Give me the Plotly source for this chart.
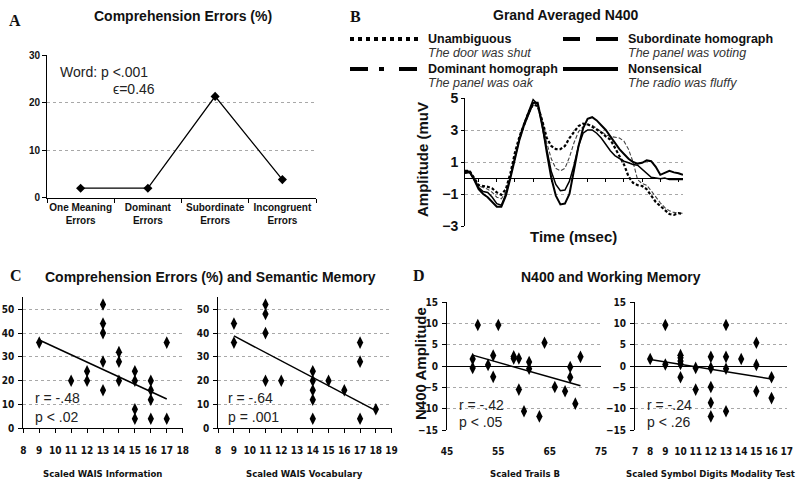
import plotly.graph_objects as go

# ---------------- data ----------------
# Panel A
a_categories = ["One Meaning<br>Errors", "Dominant<br>Errors", "Subordinate<br>Errors", "Incongruent<br>Errors"]
a_values = [2.0, 2.0, 21.3, 3.8]

# Panel B  (grand averaged N400 waveforms)
b_time = list(range(-175, 1026, 25))
b_unambiguous = [0.45, 0.45, 0.0, -0.45, -0.5, -0.55, -0.65, -0.9, -1.05, -0.7, 0.3, 1.6, 2.6, 3.3, 4.1, 4.6,
                 4.5, 3.6, 2.5, 2.0, 1.8, 1.8, 2.0, 2.5, 2.9, 3.25, 3.4, 3.35, 3.2, 3.05, 2.85, 2.6, 2.4, 1.9,
                 1.4, 0.85, 0.1, -0.3, -0.45, -0.5, -0.7, -1.1, -1.5, -1.75, -2.0, -2.25, -2.3, -2.2, -2.25]
b_subordinate = [0.4, 0.45, 0.0, -0.5, -0.6, -0.7, -0.9, -1.2, -1.3, -0.9, 0.1, 1.3, 2.4, 3.2, 4.0, 4.7,
                 4.6, 3.5, 2.2, 1.2, 0.6, 0.45, 0.6, 1.3, 2.2, 2.9, 3.2, 3.35, 3.3, 3.1, 2.9, 2.7, 2.6, 2.55,
                 2.5, 2.3, 1.8, 1.0, -0.1, -0.35, -0.45, -0.8, -1.2, -1.55, -1.85, -2.05, -2.15, -2.2, -2.2]
b_nonsensical = [0.35, 0.4, -0.1, -0.7, -1.0, -1.2, -1.5, -1.8, -1.8, -1.1, 0.0, 1.3, 2.4, 3.3, 4.0, 4.7,
                 4.7, 3.4, 1.6, 0.0, -1.1, -1.65, -1.6, -1.0, 0.5, 2.0, 3.1, 3.7, 3.8, 3.6, 3.3, 3.0, 2.6, 2.2,
                 1.8, 1.5, 1.2, 1.0, 0.9, 0.95, 1.1, 1.05, 0.7, 0.2, 0.35, 0.45, 0.35, 0.3, 0.2]
b_dominant = [0.3, 0.35, -0.1, -0.6, -0.85, -0.9, -1.2, -1.6, -1.7, -1.0, 0.1, 1.4, 2.5, 3.4, 4.2, 4.9,
              4.6, 3.2, 1.7, 0.4, -0.4, -0.8, -0.75, -0.2, 0.8, 2.0, 2.8, 3.0, 3.0, 2.8, 2.5, 2.1, 1.7, 1.4,
              1.2, 1.05, 0.95, 0.85, 0.8, 0.55, 0.3, 0.05, 0.0, -0.05, 0.0, -0.1, -0.1, -0.1, -0.1]
b_yticks = [-3, -1, 1, 3, 5]

# Panel C left: Scaled WAIS Information vs comprehension errors
c1_x = [9, 11, 12, 12, 13, 13, 13, 13, 13, 14, 14, 14, 15, 15, 15, 15, 16, 16, 16, 16, 17, 17]
c1_y = [36, 20, 24, 20, 52, 44, 40, 28, 16, 32, 28, 20, 24, 20, 8, 4, 20, 16, 12, 4, 36, 4]
c1_fit_x = [9, 17]
c1_fit_y = [37.1, 12.3]

# Panel C right: Scaled WAIS Vocabulary
c2_x = [9, 9, 11, 11, 11, 11, 12, 14, 14, 14, 14, 14, 15, 16, 17, 17, 17, 18]
c2_y = [44, 36, 52, 48, 40, 20, 20, 24, 20, 16, 12, 4, 20, 16, 36, 28, 4, 8]
c2_fit_x = [9, 18]
c2_fit_y = [38.8, 7.4]

# Panel D left: Scaled Trails B vs N400 amplitude
d1_x = [50, 50, 51, 53, 54, 54, 55, 58, 58, 59, 59, 60, 61, 61, 63, 64, 66, 68, 69, 69, 70, 71]
d1_y = [1.7, -0.4, 9.7, 0.3, 2.5, -2.5, 9.7, 2.3, 1.8, 1.8, -5.5, -10.6, 1.0, -0.6, -11.8, 5.5, -4.9, -5.9,
        -0.2, -2.6, -8.8, 2.2]
d1_fit_x = [50, 71]
d1_fit_y = [2.6, -4.6]

# Panel D right: Scaled Symbol Digits Modality Test
d2_x = [8, 9, 9, 10, 10, 10, 10, 10, 11, 11, 12, 12, 12, 12, 12, 13, 13, 13, 13, 14, 15, 15, 15, 16, 16]
d2_y = [1.7, 9.7, 0.4, 2.6, 2.0, 1.2, 0.5, -2.6, -0.4, -5.5, 2.2, -0.4, -4.9, -8.6, -11.8, 9.7, 2.2, -0.6,
        -10.6, 1.7, 5.5, 0.3, -5.9, -2.6, -7.5]
d2_fit_x = [8, 16]
d2_fit_y = [1.6, -3.0]

# ---------------- helpers ----------------
W, H = 800, 489
SANS = "Liberation Sans, Arial, sans-serif"
NARROW = "Liberation Sans Narrow, Arial Narrow, DejaVu Sans Condensed, sans-serif"
SERIF = "Liberation Serif, Times New Roman, serif"
GRID = "#a8a8a8"


def px(x):
    return x / W


def py(y):
    return 1 - y / H


fig = go.Figure()
annotations = []
shapes = []


def ann(text, x, y, size=12, family=SANS, bold=False, italic=False, xanchor="center", angle=0, color="#111"):
    annotations.append(dict(
        text=text, x=px(x), y=py(y), xref="paper", yref="paper", showarrow=False,
        xanchor=xanchor, yanchor="middle", textangle=angle,
        font=dict(family=family, size=size, color=color, weight="bold" if bold else "normal",
                  style="italic" if italic else "normal")))


# ---------------- Panel A ----------------
fig.add_trace(go.Scatter(x=a_categories, y=a_values, mode="lines+markers", xaxis="x", yaxis="y",
                         line=dict(color="black", width=1.3),
                         marker=dict(symbol="diamond", size=7, color="black")))

# ---------------- Panel B ----------------
fig.add_trace(go.Scatter(x=b_time, y=b_subordinate, mode="lines", xaxis="x2", yaxis="y2",
                         line=dict(color="#444", width=1.1, dash="4px,2px")))
fig.add_trace(go.Scatter(x=b_time, y=b_dominant, mode="lines", xaxis="x2", yaxis="y2",
                         line=dict(color="black", width=1.5)))
fig.add_trace(go.Scatter(x=b_time, y=b_nonsensical, mode="lines", xaxis="x2", yaxis="y2",
                         line=dict(color="black", width=2)))
fig.add_trace(go.Scatter(x=b_time, y=b_unambiguous, mode="lines", xaxis="x2", yaxis="y2",
                         line=dict(color="black", width=2.2, dash="3px,2px")))

# ---------------- scatter panels ----------------
for xs, ys, fx, fy, k in [(c1_x, c1_y, c1_fit_x, c1_fit_y, 3), (c2_x, c2_y, c2_fit_x, c2_fit_y, 4),
                          (d1_x, d1_y, d1_fit_x, d1_fit_y, 5), (d2_x, d2_y, d2_fit_x, d2_fit_y, 6)]:
    fig.add_trace(go.Scatter(x=fx, y=fy, mode="lines", xaxis=f"x{k}", yaxis=f"y{k}",
                             line=dict(color="black", width=1.5)))
    fig.add_trace(go.Scatter(x=xs, y=ys, mode="markers", xaxis=f"x{k}", yaxis=f"y{k}",
                             marker=dict(symbol="diamond-tall", size=9, color="black")))

# ---------------- axes ----------------
yA = [py(197.7), py(55)]
yB = [py(226), py(98)]
yC = [py(428.3), py(297.4)]
yD = [py(430), py(302.4)]

lay = dict(
    template="none",
    width=W, height=H, margin=dict(l=0, r=0, t=0, b=0, autoexpand=False), showlegend=False,
    paper_bgcolor="white", plot_bgcolor="white", hovermode=False,
    # A
    xaxis=dict(domain=[px(47), px(316)], anchor="y", type="category", range=[-0.5, 3.5], automargin=False,
               tickson="boundaries", ticks="outside", ticklen=4, tickcolor="black", tickangle=0,
               showline=True, linecolor="black", linewidth=1, showgrid=False, zeroline=False,
               tickfont=dict(family=SANS, size=10, color="#111", weight="bold")),
    yaxis=dict(domain=yA, anchor="x", range=[0, 30], dtick=10, ticks="outside", ticklen=4, automargin=False,
               tickcolor="black", showline=True, linecolor="black", linewidth=1,
               showgrid=True, gridcolor=GRID, griddash="dot", gridwidth=1, zeroline=False,
               tickfont=dict(family=SANS, size=10, color="#111", weight="bold")),
    # B
    xaxis2=dict(domain=[px(465), px(683)], anchor="free", position=yB[0] + (yB[1] - yB[0]) * 3 / 8,
                range=[-175, 1025], tick0=0, dtick=100, ticks="outside", ticklen=3, tickcolor="black",
                showline=True, linecolor="black", linewidth=1, showgrid=False, zeroline=False,
                showticklabels=False, automargin=False),
    yaxis2=dict(domain=yB, anchor="x2", range=[-3, 5], tickvals=b_yticks, ticks="outside", ticklen=3,
                tickcolor="black", showline=True, linecolor="black", linewidth=1, automargin=False,
                showgrid=True, gridcolor=GRID, griddash="dot", gridwidth=1, zeroline=False,
                tickfont=dict(family=SANS, size=14, color="#111", weight="bold")),
)

narrow_tick = dict(family=NARROW, size=10, color="#111", weight="bold")
for k, dom, yd, xr, xdt, yr, ydt, zl in [
        (3, [px(23.3), px(182.7)], yC, [8, 18], 1, [0, 55], 10, False),
        (4, [px(218.2), px(391.6)], yC, [8, 19], 1, [0, 55], 10, False),
        (5, [px(447), px(601)], yD, [45, 75], 10, [-15, 15], 5, True),
        (6, [px(635), px(786.7)], yD, [7, 17], 1, [-15, 15], 5, True)]:
    lay[f"xaxis{k}"] = dict(domain=dom, anchor=f"y{k}", range=xr, dtick=xdt, tick0=xr[0], automargin=False,
                            ticks="" if zl else "outside", ticklen=4, tickcolor="black", tickangle=0,
                            showline=not zl, linecolor="black", linewidth=1, showgrid=False,
                            zeroline=False, ticklabelstandoff=9 if not zl else 14,
                            tickfont=narrow_tick)
    lay[f"yaxis{k}"] = dict(domain=yd, anchor=f"x{k}", range=yr, dtick=ydt, ticks="outside", ticklen=4,
                            tickcolor="black", showline=True, linecolor="black", linewidth=1,
                            showgrid=True, gridcolor=GRID, griddash="dot", gridwidth=1, automargin=False,
                            zeroline=zl, zerolinecolor="black", zerolinewidth=1.2,
                            ticklabelstandoff=2, tickfont=narrow_tick)

# ---------------- text ----------------
ann("A", 15, 20, size=16, family=SERIF, bold=True)
ann("B", 355, 17, size=16, family=SERIF, bold=True)
ann("C", 16, 275, size=16, family=SERIF, bold=True)
ann("D", 419, 275, size=16, family=SERIF, bold=True)

ann("Comprehension Errors (%)", 183, 16, size=14, bold=True)
ann("Word: p <.001", 58, 72, size=14, xanchor="left", color="#222")
ann("\u03f5=0.46", 111, 89, size=14, xanchor="left", color="#222")

ann("Grand Averaged N400", 565, 15, size=14, bold=True)
ann("Unambiguous", 426, 39, size=12.5, bold=True, xanchor="left")
ann("The door was shut", 426, 53, size=12.5, italic=True, xanchor="left", color="#333")
ann("Dominant homograph", 426, 69, size=12.5, bold=True, xanchor="left")
ann("The panel was oak", 426, 83, size=12.5, italic=True, xanchor="left", color="#333")
ann("Subordinate homograph", 626, 39, size=12.5, bold=True, xanchor="left")
ann("The panel was voting", 626, 53, size=12.5, italic=True, xanchor="left", color="#333")
ann("Nonsensical", 626, 69, size=12.5, bold=True, xanchor="left")
ann("The radio was fluffy", 626, 83, size=12.5, italic=True, xanchor="left", color="#333")
ann("Amplitude (muV", 423, 160, size=15, bold=True, angle=-90)
ann("Time (msec)", 573, 236, size=15, bold=True)

ann("Comprehension Errors (%) and Semantic Memory", 210, 277, size=14, bold=True)
ann("r = -.48", 33, 398, size=14, xanchor="left", color="#222")
ann("p < .02", 33, 417, size=14, xanchor="left", color="#222")
ann("r = -.64", 226, 398, size=14, xanchor="left", color="#222")
ann("p = .001", 226, 417, size=14, xanchor="left", color="#222")
ann("Scaled WAIS Information", 102, 473, size=9.5, family=NARROW, bold=True)
ann("Scaled WAIS Vocabulary", 304, 473, size=9.5, family=NARROW, bold=True)

ann("N400 and Working Memory", 611, 277, size=14, bold=True)
ann("N400 Amplitude", 420, 364, size=15, bold=True, angle=-90)
ann("r = -.42", 457, 405, size=14, xanchor="left", color="#222")
ann("p < .05", 457, 422, size=14, xanchor="left", color="#222")
ann("r = -.24", 645, 405, size=14, xanchor="left", color="#222")
ann("p < .26", 645, 422, size=14, xanchor="left", color="#222")
ann("Scaled Trails B", 525, 473, size=9.5, family=NARROW, bold=True)
ann("Scaled Symbol Digits Modality Test", 710, 473, size=9.5, family=NARROW, bold=True)

# legend keys for panel B
def key(x0, x1, y, dash):
    shapes.append(dict(type="line", xref="paper", yref="paper", x0=px(x0), x1=px(x1), y0=py(y), y1=py(y),
                       line=dict(color="black", width=4, dash=dash)))

key(350, 418, 39, "4px,4px")
key(350, 418, 69, "18px,11px,5px,15px,18px")
key(563, 618, 39, "17px,16px,22px")
key(563, 618, 69, "solid")

lay["annotations"] = annotations
lay["shapes"] = shapes
fig.update_layout(**lay)
fig.write_html("out.html", config={"displayModeBar": False},
               post_script="document.body.style.margin='0';document.body.style.overflow='hidden';")
